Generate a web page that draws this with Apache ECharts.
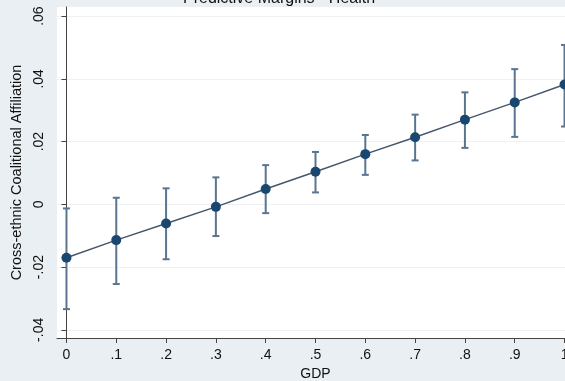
<!DOCTYPE html>
<html>
<head>
<meta charset="utf-8">
<script src="https://cdn.jsdelivr.net/npm/echarts@6/dist/echarts.min.js"></script>
<style>
html,body{margin:0;padding:0;background:#e9eff2;}
#chart{width:565px;height:381px;}
</style>
</head>
<body>
<div id="chart"></div>
<script>
// Data
const gdp = [0, 0.1, 0.2, 0.3, 0.4, 0.5, 0.6, 0.7, 0.8, 0.9, 1];
const margin = [-0.0170, -0.0114, -0.0061, -0.0008, 0.0049, 0.0104, 0.0160, 0.0214, 0.0270, 0.0325, 0.0382];
const upper = [-0.0013, 0.0021, 0.0051, 0.0086, 0.0125, 0.0167, 0.0221, 0.0286, 0.0357, 0.0431, 0.0508];
const lower = [-0.0334, -0.0254, -0.0175, -0.0101, -0.0028, 0.0038, 0.0094, 0.0140, 0.0180, 0.0215, 0.0248];
const xTicks = [0, 0.1, 0.2, 0.3, 0.4, 0.5, 0.6, 0.7, 0.8, 0.9, 1];
const xTickLabels = ['0', '.1', '.2', '.3', '.4', '.5', '.6', '.7', '.8', '.9', '1'];
const yTicks = [-0.04, -0.02, 0, 0.02, 0.04, 0.06];
const yTickLabels = ['-.04', '-.02', '0', '.02', '.04', '.06'];

function fmt(vals, labels) {
  return function (v) {
    for (let i = 0; i < vals.length; i++) {
      if (Math.abs(vals[i] - v) < 1e-9) return labels[i];
    }
    return '';
  };
}

const chart = echarts.init(document.getElementById('chart'), null, {renderer: 'canvas'});
const font = 'Liberation Sans, Arial, Helvetica, sans-serif';
const option = {
  backgroundColor: '#e9eff2',
  animation: false,
  title: {
    text: 'Predictive Margins - Health',
    left: 183,
    top: -9,
    padding: 0,
    textStyle: {fontFamily: font, fontSize: 16, fontWeight: 'normal', color: '#111'}
  },
  grid: {
    left: 57, right: -9, top: 7, bottom: 43,
    outerBoundsMode: 'none',
    containLabel: false,
    show: true, backgroundColor: '#ffffff', borderWidth: 0
  },
  xAxis: {
    type: 'value',
    min: -0.019, max: 1.019,
    name: 'GDP',
    nameLocation: 'middle',
    nameGap: 29,
    nameTextStyle: {fontFamily: font, fontSize: 14, color: '#111'},
    axisLine: {show: true, onZero: false, lineStyle: {color: '#444', width: 1}},
    axisTick: {show: true, length: 5, customValues: xTicks, lineStyle: {color: '#444'}},
    axisLabel: {
      customValues: xTicks, formatter: fmt(xTicks, xTickLabels),
      fontFamily: font, fontSize: 14, color: '#111', margin: 10
    },
    splitLine: {show: false}
  },
  yAxis: {
    type: 'value',
    min: -0.0426, max: 0.0629,
    name: 'Cross-ethnic Coalitional Affiliation',
    nameLocation: 'middle',
    nameGap: 25,
    nameTextStyle: {fontFamily: font, fontSize: 14.5, color: '#111'},
    axisLine: {show: true, lineStyle: {color: '#444', width: 1}},
    axisTick: {show: true, length: 5, customValues: yTicks, lineStyle: {color: '#444'}},
    axisLabel: {
      customValues: yTicks, formatter: fmt(yTicks, yTickLabels),
      rotate: 90, fontFamily: font, fontSize: 14, color: '#111', margin: 11
    },
    splitLine: {show: true, lineStyle: {color: '#eef2f4', width: 1}}
  },
  series: [
    {
      type: 'custom',
      name: 'CI',
      data: gdp.map((g, i) => [g, lower[i], upper[i]]),
      renderItem: function (params, api) {
        const x = api.value(0);
        const lo = api.coord([x, api.value(1)]);
        const hi = api.coord([x, api.value(2)]);
        const hw = 3.5;
        const st = {stroke: '#5a7590', lineWidth: 2, fill: null};
        return {
          type: 'group',
          children: [
            {type: 'line', shape: {x1: lo[0], y1: lo[1], x2: hi[0], y2: hi[1]}, style: st},
            {type: 'line', shape: {x1: lo[0] - hw, y1: lo[1], x2: lo[0] + hw, y2: lo[1]}, style: st},
            {type: 'line', shape: {x1: hi[0] - hw, y1: hi[1], x2: hi[0] + hw, y2: hi[1]}, style: st}
          ]
        };
      },
      z: 2
    },
    {
      type: 'line',
      name: 'Margin',
      data: gdp.map((g, i) => [g, margin[i]]),
      symbol: 'circle',
      symbolSize: 10,
      lineStyle: {color: '#44576b', width: 1.5},
      itemStyle: {color: '#1a476f'},
      z: 3
    }
  ]
};
chart.setOption(option);
</script>
</body>
</html>
